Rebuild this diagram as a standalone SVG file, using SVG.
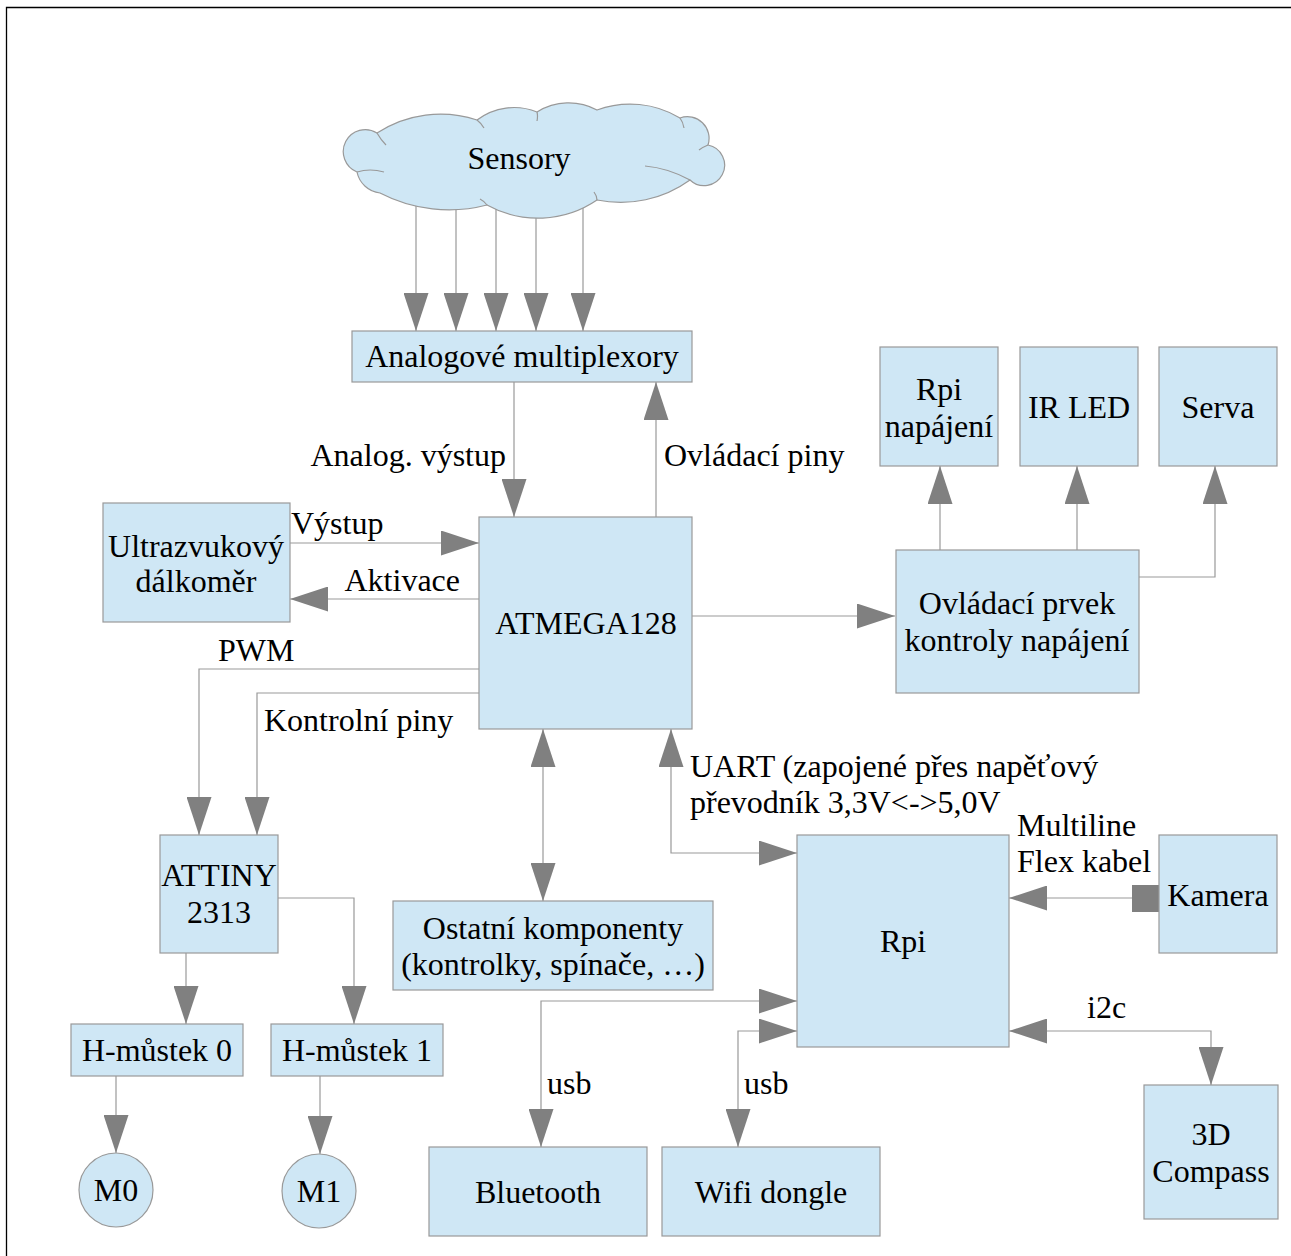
<svg xmlns="http://www.w3.org/2000/svg" width="1291" height="1256" viewBox="0 0 1291 1256">
<style>
.n{fill:#cfe7f5;stroke:#999999;stroke-width:1.2}
.c{fill:none;stroke:#999999;stroke-width:1.2}
text{font-family:"Liberation Serif","Times New Roman",serif;font-size:32px;fill:#000}
.m{text-anchor:middle}
.e{text-anchor:end}
</style>
<defs>
<marker id="a" markerUnits="userSpaceOnUse" markerWidth="38" markerHeight="25" refX="38" refY="12.5" orient="auto-start-reverse" viewBox="0 0 38 25">
<path d="M0,0 L38,12.5 L0,25 z" fill="#808080"/>
</marker>
</defs>
<rect width="1291" height="1256" fill="#fff"/>
<path d="M6.5,1256 V7.5 H1291" fill="none" stroke="#000" stroke-width="1.3"/>

<g id="connectors">
<path class="c" d="M416,200 V331" marker-end="url(#a)"/>
<path class="c" d="M456,200 V331" marker-end="url(#a)"/>
<path class="c" d="M496,200 V331" marker-end="url(#a)"/>
<path class="c" d="M536,200 V331" marker-end="url(#a)"/>
<path class="c" d="M583,200 V331" marker-end="url(#a)"/>
<path class="c" d="M514,382 V517" marker-end="url(#a)"/>
<path class="c" d="M656,517 V382" marker-end="url(#a)"/>
<path class="c" d="M290,543 H479" marker-end="url(#a)"/>
<path class="c" d="M479,599 H290" marker-end="url(#a)"/>
<path class="c" d="M479,669 H199 V835" marker-end="url(#a)"/>
<path class="c" d="M479,693 H257 V835" marker-end="url(#a)"/>
<path class="c" d="M692,616 H895" marker-end="url(#a)"/>
<path class="c" d="M940,550 V466" marker-end="url(#a)"/>
<path class="c" d="M1077,550 V466" marker-end="url(#a)"/>
<path class="c" d="M1139,577 H1215 V466" marker-end="url(#a)"/>
<path class="c" d="M543,729 V901" marker-start="url(#a)" marker-end="url(#a)"/>
<path class="c" d="M671,729 V853 H797" marker-start="url(#a)" marker-end="url(#a)"/>
<path class="c" d="M1132,898 H1009" marker-end="url(#a)"/>
<rect x="1132" y="885" width="27" height="27" fill="#808080"/>
<path class="c" d="M1009,1031 H1211 V1085" marker-start="url(#a)" marker-end="url(#a)"/>
<path class="c" d="M797,1001 H541 V1147" marker-start="url(#a)" marker-end="url(#a)"/>
<path class="c" d="M797,1031 H738 V1147" marker-start="url(#a)" marker-end="url(#a)"/>
<path class="c" d="M186,953 V1024" marker-end="url(#a)"/>
<path class="c" d="M278,898 H354 V1024" marker-end="url(#a)"/>
<path class="c" d="M116,1076 V1153" marker-end="url(#a)"/>
<path class="c" d="M320,1076 V1154" marker-end="url(#a)"/>
</g>

<g id="labels">
<text x="506" y="466" class="e">Analog. výstup</text>
<text x="664" y="466">Ovládací piny</text>
<text x="291" y="534">Výstup</text>
<text x="460" y="591" class="e">Aktivace</text>
<text x="218" y="661">PWM</text>
<text x="264" y="731">Kontrolní piny</text>
<text x="690" y="777">UART (zapojené přes napěťový</text>
<text x="690" y="813">převodník 3,3V&lt;-&gt;5,0V</text>
<text x="1017" y="836">Multiline</text>
<text x="1017" y="872">Flex kabel</text>
<text x="1087" y="1018">i2c</text>
<text x="547" y="1094">usb</text>
<text x="744" y="1094">usb</text>
</g>

<g id="sensory">
<path class="n" d="M357,172 A22,22 0 1 1 377,133 A116,116 0 0 1 477,120 A61,61 0 0 1 537,112 A60,60 0 0 1 597,110 A96,96 0 0 1 680,118 A21.6,21.6 0 0 1 708,145 A20.5,20.5 0 1 1 690,180 A118,118 0 0 1 597,200 A105,105 0 0 1 487,205 A150,150 0 0 1 380,193 A26.5,26.5 0 0 1 357,172 Z"/>
<path class="c" d="M357,172 Q370,168 384,172 M377,133 Q381,140 386,145 M477,120 Q481,123 484,128 M537,112 Q538,116 537,121 M680,118 Q683,122 684,128 M708,145 Q703,147 699,150 M690,180 Q668,168 645,166 M597,200 Q597,196 594,192 M487,205 Q484,201 480,199"/>
<text x="519" y="169" class="m">Sensory</text>
</g>

<g id="mux">
<rect class="n" x="352" y="331" width="340" height="51"/>
<text x="522" y="367" class="m">Analogové multiplexory</text>
</g>

<g id="rpi-napajeni">
<rect class="n" x="880" y="347" width="118" height="119"/>
<text x="939" y="400" class="m">Rpi</text>
<text x="939" y="437" class="m">napájení</text>
</g>

<g id="ir-led">
<rect class="n" x="1020" y="347" width="118" height="119"/>
<text x="1079" y="418" class="m">IR LED</text>
</g>

<g id="serva">
<rect class="n" x="1159" y="347" width="118" height="119"/>
<text x="1218" y="418" class="m">Serva</text>
</g>

<g id="ultrazvuk">
<rect class="n" x="103" y="503" width="187" height="119"/>
<text x="196" y="557" class="m">Ultrazvukový</text>
<text x="196" y="592" class="m">dálkoměr</text>
</g>

<g id="atmega">
<rect class="n" x="479" y="517" width="213" height="212"/>
<text x="586" y="634" class="m">ATMEGA128</text>
</g>

<g id="ovladaci-prvek">
<rect class="n" x="896" y="550" width="243" height="143"/>
<text x="1017" y="614" class="m">Ovládací prvek</text>
<text x="1017" y="651" class="m">kontroly napájení</text>
</g>

<g id="attiny">
<rect class="n" x="160" y="835" width="118" height="118"/>
<text x="219" y="886" class="m">ATTINY</text>
<text x="219" y="923" class="m">2313</text>
</g>

<g id="ostatni">
<rect class="n" x="393" y="901" width="320" height="89"/>
<text x="553" y="939" class="m">Ostatní komponenty</text>
<text x="553" y="975" class="m">(kontrolky, spínače, …)</text>
</g>

<g id="rpi">
<rect class="n" x="797" y="835" width="212" height="212"/>
<text x="903" y="952" class="m">Rpi</text>
</g>

<g id="kamera">
<rect class="n" x="1159" y="835" width="118" height="118"/>
<text x="1218" y="906" class="m">Kamera</text>
</g>

<g id="hmustek0">
<rect class="n" x="71" y="1024" width="172" height="52"/>
<text x="157" y="1061" class="m">H-můstek 0</text>
</g>

<g id="hmustek1">
<rect class="n" x="271" y="1024" width="172" height="52"/>
<text x="357" y="1061" class="m">H-můstek 1</text>
</g>

<g id="compass">
<rect class="n" x="1144" y="1085" width="134" height="134"/>
<text x="1211" y="1145" class="m">3D</text>
<text x="1211" y="1182" class="m">Compass</text>
</g>

<g id="m0">
<circle class="n" cx="116" cy="1190" r="37"/>
<text x="116" y="1201" class="m">M0</text>
</g>

<g id="m1">
<circle class="n" cx="319" cy="1191" r="37"/>
<text x="319" y="1202" class="m">M1</text>
</g>

<g id="bluetooth">
<rect class="n" x="429" y="1147" width="218" height="89"/>
<text x="538" y="1203" class="m">Bluetooth</text>
</g>

<g id="wifi">
<rect class="n" x="662" y="1147" width="218" height="89"/>
<text x="771" y="1203" class="m">Wifi dongle</text>
</g>
</svg>
